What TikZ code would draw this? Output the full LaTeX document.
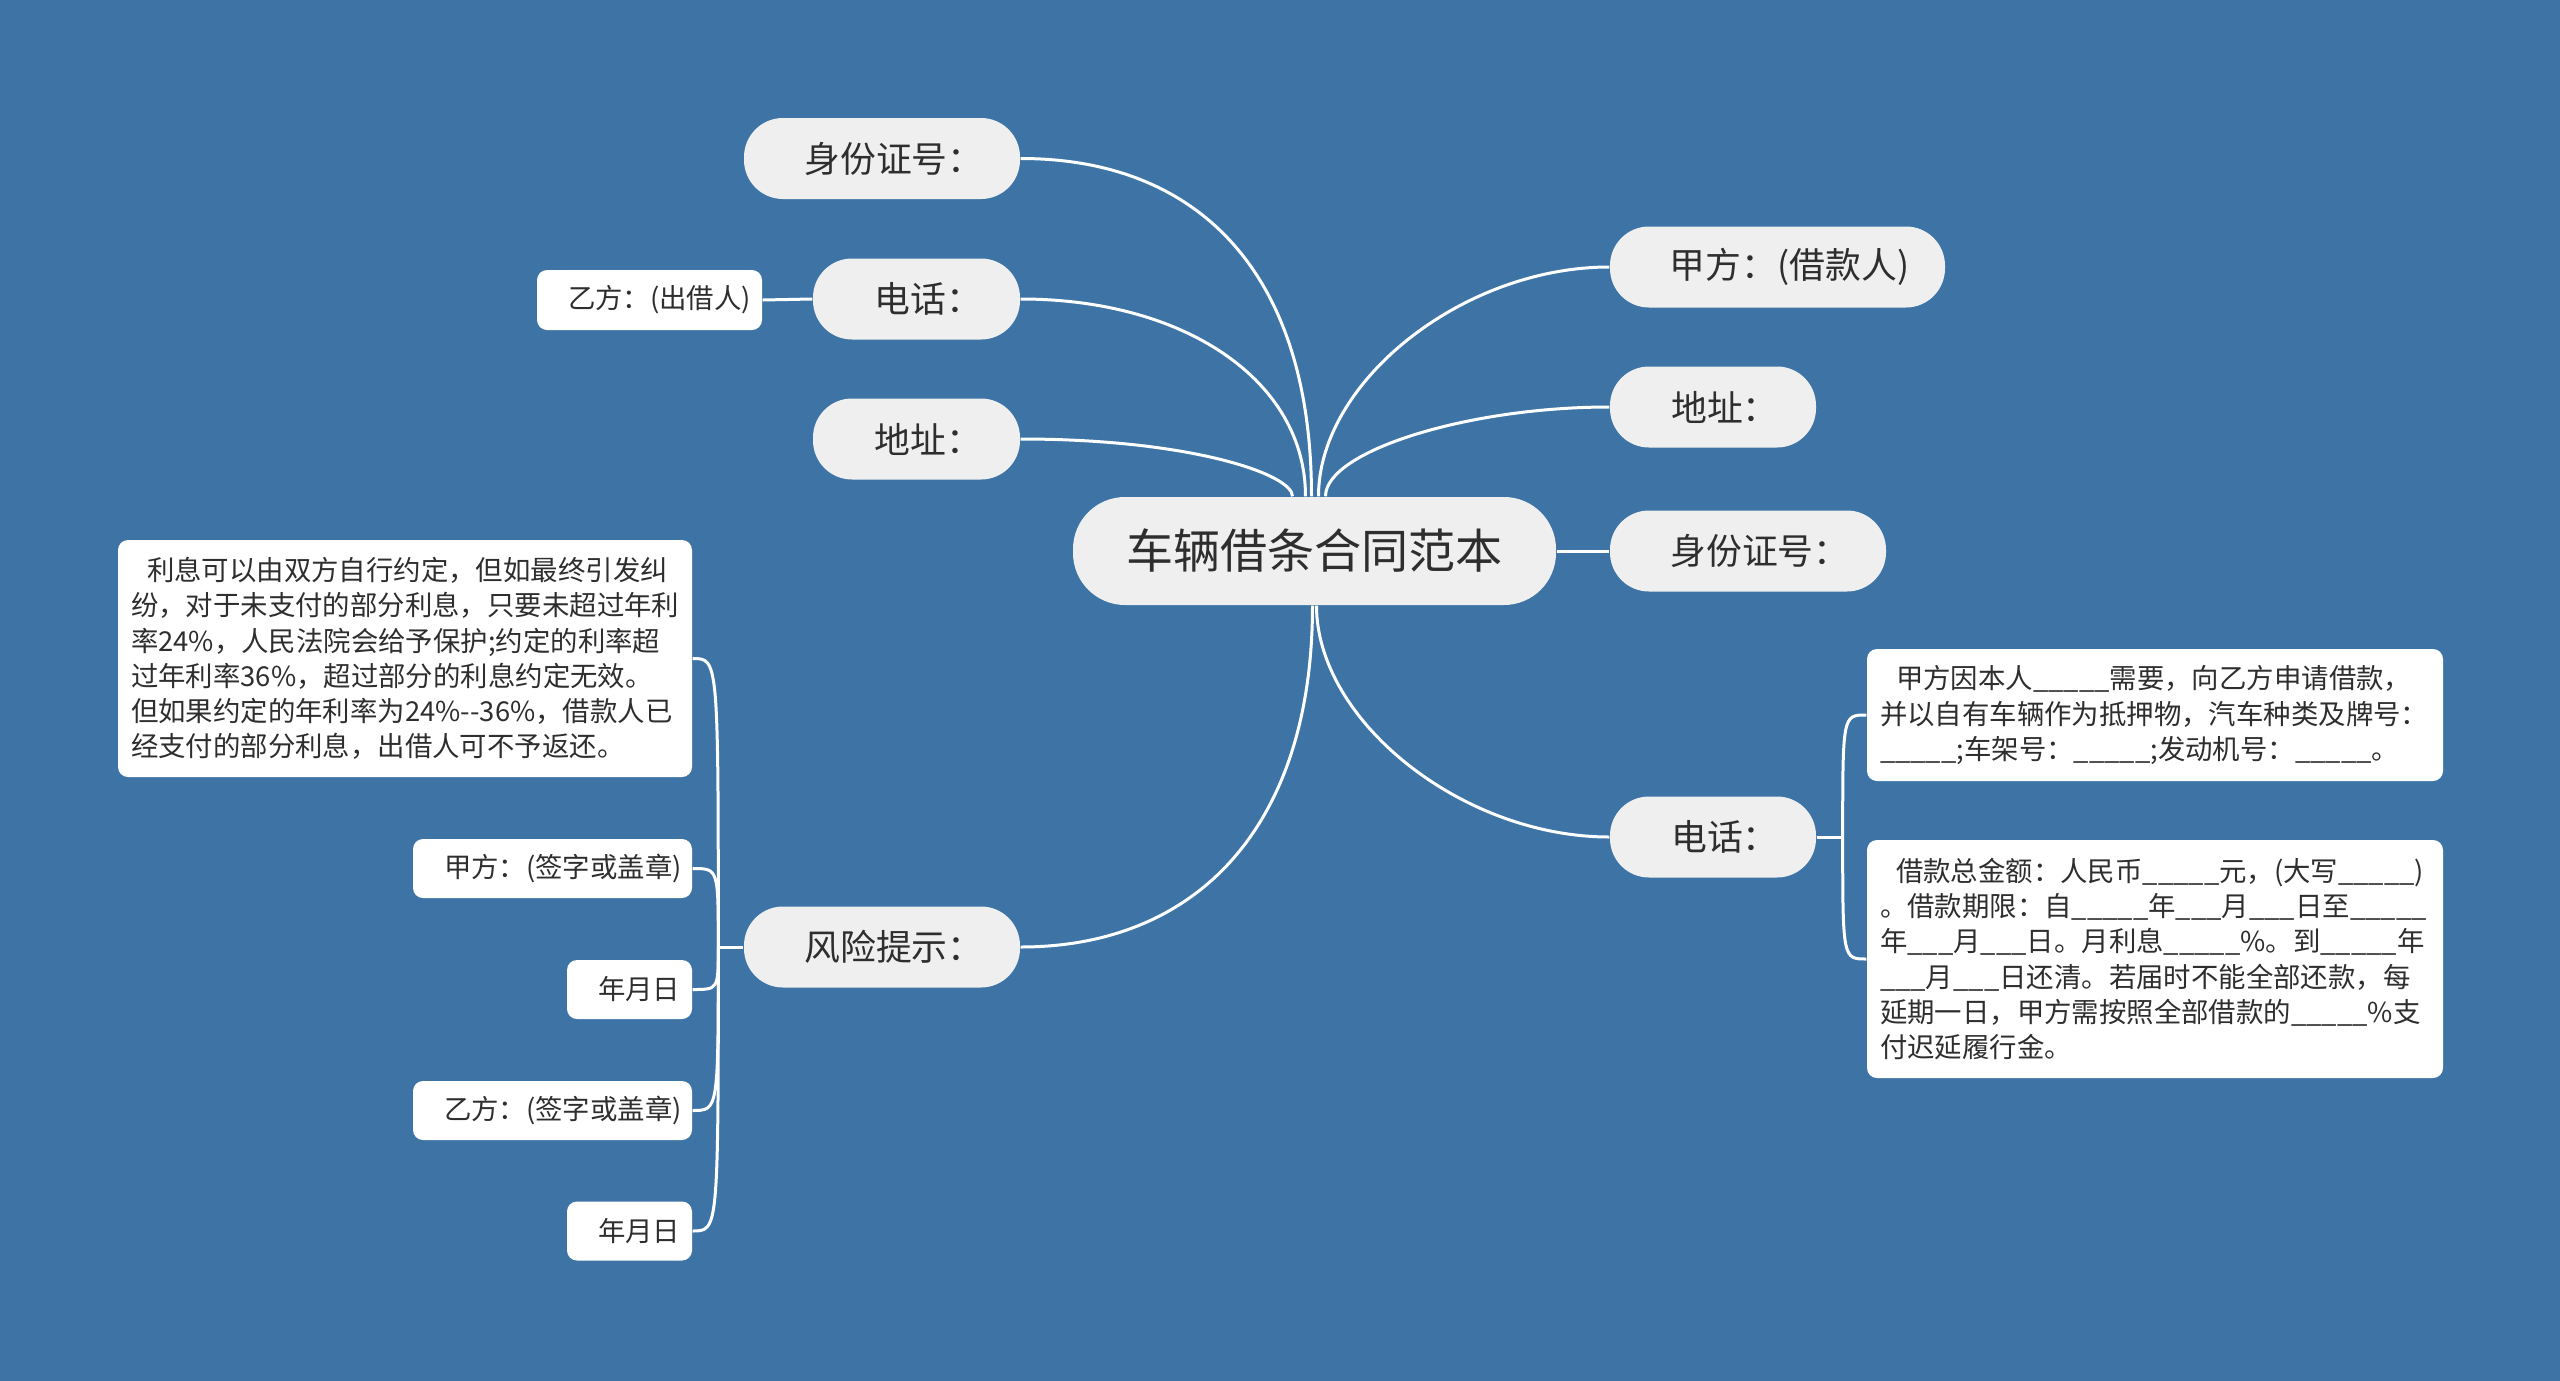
\documentclass[tikz,border=0pt]{standalone}
\usepackage{fontspec}
\setmainfont{Noto Sans CJK SC}
\usetikzlibrary{calc}
\definecolor{bg}{HTML}{3D74A5}
\definecolor{pill}{HTML}{EFEFEF}
\definecolor{ink}{HTML}{2E2E2E}
\tikzset{
  pillnode/.style={fill=pill, rounded corners=3.9mm, minimum height=8.1mm, inner sep=0pt, text=ink,
    font=\fontsize{10.2pt}{12pt}\selectfont, execute at begin node={\hspace*{2.4mm}}},
  rootnode/.style={fill=pill, rounded corners=5.2mm, minimum height=10.8mm, minimum width=48.3mm, inner sep=0pt,
    text=ink, font=\fontsize{13.4pt}{16pt}\selectfont},
  leafbox/.style={fill=white, rounded corners=1mm, inner xsep=1.3mm, inner ysep=0pt, align=left, text=ink,
    font=\fontsize{7.8pt}{10pt}\selectfont},
  link/.style={draw=white, line width=0.3mm},
}
\newcommand{\ind}{\hspace*{1.8mm}}
\begin{document}
\begin{tikzpicture}[x=0.1mm,y=-0.1mm]
\fill[bg] (0,0) rectangle (2560,1381);
\useasboundingbox (0,0) rectangle (2560,1381);

% root and first level
\node[rootnode] (root) at (1314.5,551) {车辆借条合同范本};
\node[pillnode, minimum width=27.6mm] (idL) at (882,158.5) {身份证号：};
\node[pillnode, minimum width=20.7mm] (telL) at (916.5,299) {电话：};
\node[pillnode, minimum width=20.7mm] (addrL) at (916.5,439) {地址：};
\node[pillnode, minimum width=27.6mm] (risk) at (882,947) {风险提示：};
\node[pillnode, minimum width=33.5mm] (jia) at (1777.5,267) {甲方：(借款人)};
\node[pillnode, minimum width=20.6mm] (addrR) at (1713,407) {地址：};
\node[pillnode, minimum width=27.6mm] (idR) at (1748,551) {身份证号：};
\node[pillnode, minimum width=20.6mm] (telR) at (1713,837) {电话：};

% leaves
\node[leafbox, text width=19.9mm, minimum height=6.0mm] (yi) at (649.5,300) {\ind 乙方：(出借人)};

\node[leafbox, text width=54.8mm, minimum height=23.7mm] (note) at (405,658.5)
 {\hspace*{1.6mm}利息可以由双方自行约定，但如最终引发纠\\
  纷，对于未支付的部分利息，只要未超过年利\\
  率24\%，人民法院会给予保护;约定的利率超\\
  过年利率36\%，超过部分的利息约定无效。\\
  但如果约定的年利率为24\%-{}-36\%，借款人已\\
  经支付的部分利息，出借人可不予返还。};
\node[leafbox, text width=25.3mm, minimum height=5.9mm] (jsign) at (552.5,868.5) {\ind 甲方：(签字或盖章)};
\node[leafbox, text width=9.9mm, minimum height=5.9mm] (date1) at (629.5,989.5) {\ind 年月日};
\node[leafbox, text width=25.3mm, minimum height=5.9mm] (ysign) at (552.5,1110.5) {\ind 乙方：(签字或盖章)};
\node[leafbox, text width=9.9mm, minimum height=5.9mm] (date2) at (629.5,1231) {\ind 年月日};

\node[leafbox, text width=55.0mm, minimum height=13.2mm] (req) at (2155,715)
 {\hspace*{1.6mm}甲方因本人\_\_\_\_\_需要，向乙方申请借款，\\
  并以自有车辆作为抵押物，汽车种类及牌号：\\
  \_\_\_\_\_;车架号：\_\_\_\_\_;发动机号：\_\_\_\_\_。};
\node[leafbox, text width=55.0mm, minimum height=23.8mm] (amt) at (2155,959)
 {\hspace*{1.6mm}借款总金额：人民币\_\_\_\_\_元，(大写\_\_\_\_\_)\\
  。借款期限：自\_\_\_\_\_年\_\_\_月\_\_\_日至\_\_\_\_\_\\
  年\_\_\_月\_\_\_日。月利息\_\_\_\_\_\%。到\_\_\_\_\_年\\
  \_\_\_月\_\_\_日还清。若届时不能全部还款，每\\
  延期一日，甲方需按照全部借款的\_\_\_\_\_\%支\\
  付迟延履行金。};

% first level connectors
\draw[link] ($(root.north)+(-3,0)$) .. controls +(0,-221) and +(180,0) .. (idL.east);
\draw[link] ($(root.north)+(-9,0)$) .. controls +(0,-115) and +(165,0) .. (telL.east);
\draw[link] ($(root.north)+(-22,0)$) .. controls +(0,-22) and +(170,0) .. (addrL.east);
\draw[link] ($(root.north)+(4,0)$) .. controls +(0,-115) and +(-146,0) .. (jia.west);
\draw[link] ($(root.north)+(11,0)$) .. controls +(0,-45) and +(-142,0) .. (addrR.west);
\draw[link] (root.east) -- (idR.west);
\draw[link] ($(root.south)+(-2,0)$) .. controls +(0,221) and +(176,0) .. (risk.east);
\draw[link] ($(root.south)+(2,0)$) .. controls +(0,115) and +(-147,0) .. (telR.west);

% second level connectors
\draw[link] (telL.west) -- (yi.east);
\coordinate (rj) at ($(risk.west)+(-25,0)$);
\draw[link] (risk.west) -- (rj);
\draw[link] (rj) .. controls (rj |- note.east) .. (note.east);
\draw[link] (rj) .. controls (rj |- jsign.east) .. (jsign.east);
\draw[link] (rj) .. controls (rj |- date1.east) .. (date1.east);
\draw[link] (rj) .. controls (rj |- ysign.east) .. (ysign.east);
\draw[link] (rj) .. controls (rj |- date2.east) .. (date2.east);
\coordinate (tj) at ($(telR.east)+(26,0)$);
\draw[link] (telR.east) -- (tj);
\draw[link] (tj) .. controls (tj |- req.west) .. (req.west);
\draw[link] (tj) .. controls (tj |- amt.west) .. (amt.west);
\end{tikzpicture}
\end{document}
